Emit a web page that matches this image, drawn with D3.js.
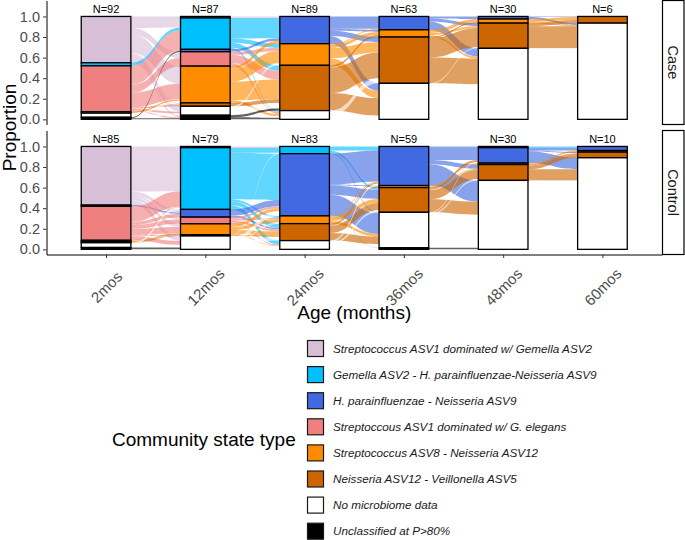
<!DOCTYPE html>
<html><head><meta charset="utf-8">
<script src="https://cdn.jsdelivr.net/npm/d3@7"></script>
<style>
body{margin:0;background:#fff}
svg{display:block}
text{font-family:"Liberation Sans",Arial,Helvetica,sans-serif}
</style>
</head><body>
<svg id="chart" width="685" height="540"></svg>
<script>
// ---------------- DATA ----------------
const ages = ["2mos","12mos","24mos","36mos","48mos","60mos"];
const cstLabels = [
  "Streptococcus ASV1 dominated w/ Gemella ASV2",
  "Gemella ASV2 - H. parainfluenzae-Neisseria ASV9",
  "H. parainfluenzae - Neisseria ASV9",
  "Streptoccous ASV1 dominated w/ G. elegans",
  "Streptococcus ASV8 - Neisseria ASV12",
  "Neisseria ASV12 - Veillonella ASV5",
  "No microbiome data",
  "Unclassified at P>80%"
];
const cstColors = ["#D8BFD8","#00BFFF","#4169E1","#F08080","#FF8C00","#CD6600","#FFFFFF","#000000"];
const panelNames = ["Case","Control"];
const caseN = [92,87,89,63,30,6];
const controlN = [85,79,83,59,30,10];
const yTicks = [0,0.2,0.4,0.6,0.8,1.0];

// stratum proportions per age (order = cstLabels)
const caseStrata = [
  [0.45,0.03,0,0.445,0.015,0,0.04,0.02],
  [0.015,0.305,0.023,0.14,0.357,0.033,0.087,0.04],
  [0,0,0.265,0,0.21,0.44,0.085,0],
  [0,0,0.13,0,0.07,0.45,0.35,0],
  [0,0,0.025,0,0.04,0.245,0.69,0],
  [0,0,0,0,0,0.065,0.935,0]
];
const controlStrata = [
  [0.57,0,0.012,0.33,0.012,0.012,0.046,0.018],
  [0.012,0.60,0.075,0.065,0.105,0.013,0.13,0],
  [0,0.07,0.605,0,0.075,0.165,0.085,0],
  [0,0,0.38,0,0.02,0.24,0.345,0.015],
  [0,0.012,0.15,0,0.014,0.154,0.67,0],
  [0,0,0.04,0,0.015,0.055,0.89,0]
];

// transitions between consecutive ages: [from CST, to CST, share]
const caseFlows = [
  [[0,0,.015],[0,1,.09],[0,3,.06],[0,4,.17],[0,5,.01],[0,6,.06],[0,7,.02],
   [1,1,.03],
   [3,1,.18],[3,2,.013],[3,3,.08],[3,4,.15],[3,5,.013],[3,6,.02],[3,7,.01],
   [4,4,.015],[6,4,.02],[6,6,.02],[7,2,.01],[7,7,.01]],
  [[0,2,.015],
   [1,2,.2],[1,4,.04],[1,5,.05],[1,6,.015],
   [2,2,.023],
   [3,4,.03],[3,5,.08],[3,6,.03],
   [4,2,.03],[4,4,.12],[4,5,.18],[4,6,.027],
   [5,5,.033],
   [6,4,.02],[6,5,.05],[6,6,.017],
   [7,5,.02],[7,6,.02]],
  [[2,2,.12],[2,4,.02],[2,5,.05],[2,6,.075],
   [4,2,.01],[4,4,.03],[4,5,.1],[4,6,.07],
   [5,4,.02],[5,5,.25],[5,6,.17],
   [6,5,.05],[6,6,.035]],
  [[2,2,.02],[2,5,.03],[2,6,.08],
   [4,4,.03],[4,5,.02],[4,6,.02],
   [5,4,.01],[5,5,.19],[5,6,.25],
   [6,5,.01],[6,6,.34]],
  [[2,5,.005],[2,6,.02],
   [4,5,.03],[4,6,.01],
   [5,5,.03],[5,6,.215],
   [6,6,.69]]
];
const controlFlows = [
  [[0,0,.012],[0,1,.42],[0,2,.03],[0,3,.02],[0,4,.03],[0,6,.05],
   [2,2,.012],
   [3,1,.15],[3,2,.03],[3,3,.04],[3,4,.06],[3,5,.01],[3,6,.04],
   [4,1,.006],[4,4,.006],
   [5,4,.006],[5,5,.006],
   [6,1,.02],[6,6,.026],
   [7,6,.018]],
  [[0,1,.012],
   [1,1,.05],[1,2,.45],[1,4,.02],[1,5,.04],[1,6,.04],
   [2,2,.06],[2,5,.015],
   [3,2,.02],[3,4,.015],[3,5,.02],[3,6,.01],
   [4,2,.03],[4,4,.03],[4,5,.04],[4,6,.005],
   [5,5,.013],
   [6,1,.008],[6,2,.045],[6,4,.01],[6,5,.037],[6,6,.03]],
  [[1,2,.04],[1,5,.02],[1,6,.01],
   [2,2,.3],[2,4,.01],[2,5,.09],[2,6,.2],[2,7,.005],
   [4,2,.01],[4,5,.04],[4,6,.025],
   [5,2,.01],[5,4,.01],[5,5,.07],[5,6,.075],
   [6,2,.02],[6,5,.02],[6,6,.035],[6,7,.01]],
  [[2,1,.012],[2,2,.12],[2,5,.04],[2,6,.208],
   [4,4,.01],[4,5,.01],
   [5,2,.02],[5,4,.004],[5,5,.09],[5,6,.126],
   [6,2,.01],[6,5,.014],[6,6,.321],
   [7,6,.015]],
  [[1,2,.012],
   [2,2,.028],[2,5,.01],[2,6,.112],
   [4,4,.007],[4,5,.007],
   [5,4,.008],[5,5,.038],[5,6,.108],
   [6,6,.67]]
];

// ---------------- DRAWING ----------------
const svg = d3.select("#chart");
const plotLeft = 46.5, plotRight = 662;
const panelTops = [0.5, 130.5], panelH = 124;
const x = d3.scalePoint().domain(ages).range([plotLeft, plotRight]).padding(0.6);
const barW = x.step() * 0.5;
const tickGrey = "#4D4D4D";

function drawPanel(p, strata, flows, ns, name) {
  const top = panelTops[p];
  const y = d3.scaleLinear().domain([-0.05, 1.155]).range([top + panelH, top]);
  const g = svg.append("g");

  const pos = strata.map(arr => {
    let cum = 1;
    return arr.map(v => { const s = {top: cum, bot: cum - v, size: v}; cum -= v; return s; });
  });

  // flows
  flows.forEach((list, t) => {
    const rowSum = Array(8).fill(0), colSum = Array(8).fill(0);
    list.forEach(([a,b,v]) => { rowSum[a] += v; colSum[b] += v; });
    const leftOff = pos[t].map(s => s.top), rightOff = pos[t+1].map(s => s.top);
    const L = new Map(), R = new Map();
    list.slice().sort((m,n) => m[0]-n[0] || m[1]-n[1]).forEach(f => {
      const a = f[0]; const h = f[2] / rowSum[a] * pos[t][a].size;
      L.set(f, [leftOff[a], leftOff[a] - h]); leftOff[a] -= h;
    });
    list.slice().sort((m,n) => m[1]-n[1] || m[0]-n[0]).forEach(f => {
      const b = f[1]; const h = f[2] / colSum[b] * pos[t+1][b].size;
      R.set(f, [rightOff[b], rightOff[b] - h]); rightOff[b] -= h;
    });
    const x0 = x(ages[t]) + barW/2, x1 = x(ages[t+1]) - barW/2, xm = (x0 + x1)/2;
    g.append("g").selectAll("path").data(list).enter().append("path")
      .attr("d", f => {
        const [l0,l1] = L.get(f), [r0,r1] = R.get(f);
        return `M${x0},${y(l0)}C${xm},${y(l0)} ${xm},${y(r0)} ${x1},${y(r0)}` +
               `L${x1},${y(r1)}C${xm},${y(r1)} ${xm},${y(l1)} ${x0},${y(l1)}Z`;
      })
      .attr("fill", f => cstColors[f[0]])
      .attr("fill-opacity", 0.62)
      .attr("stroke", "none");
  });

  // strata
  pos.forEach((col, t) => {
    const cells = col.map((s,i) => ({...s, i})).filter(s => s.size > 0);
    g.append("g").selectAll("rect").data(cells).enter().append("rect")
      .attr("x", x(ages[t]) - barW/2)
      .attr("width", barW)
      .attr("y", s => y(s.top))
      .attr("height", s => y(s.bot) - y(s.top))
      .attr("fill", s => cstColors[s.i])
      .attr("stroke", "#000")
      .attr("stroke-width", 1.3);
  });

  // N labels
  g.append("g").selectAll("text").data(ns).enter().append("text")
    .attr("x", (n,i) => x(ages[i]))
    .attr("y", y(1) - 3.6)
    .attr("text-anchor", "middle")
    .attr("font-size", "11px")
    .attr("fill", "#000")
    .text(n => "N=" + n);

  // y axis
  const ya = svg.append("g").attr("transform", `translate(${plotLeft},0)`)
    .call(d3.axisLeft(y).tickValues(yTicks).tickFormat(d3.format(".1f")).tickSize(3.5).tickSizeOuter(0).tickPadding(3));
  ya.select(".domain").attr("stroke", "#000").attr("stroke-width", 1);
  ya.selectAll(".tick line").attr("stroke", "#333");
  ya.selectAll(".tick text").attr("font-size", "14.5px").attr("fill", tickGrey)
    .style("font-family", '"Liberation Sans",Arial,sans-serif');

  // strip
  svg.append("rect").attr("x", 662.5).attr("y", top).attr("width", 21.5).attr("height", panelH)
    .attr("fill", "#fff").attr("stroke", "#000").attr("stroke-width", 1.2);
  svg.append("text")
    .attr("transform", `translate(673.2,${top + panelH/2}) rotate(90)`)
    .attr("text-anchor", "middle").attr("dy", "0.35em")
    .attr("font-size", "14.5px").attr("fill", "#1a1a1a")
    .text(name);

  return y;
}

drawPanel(0, caseStrata, caseFlows, caseN, panelNames[0]);
drawPanel(1, controlStrata, controlFlows, controlN, panelNames[1]);

// x axis (bottom panel)
const axisY = panelTops[1] + panelH;
const xa = svg.append("g").attr("transform", `translate(0,${axisY})`)
  .call(d3.axisBottom(x).tickSize(3.5).tickSizeOuter(0));
xa.select(".domain").attr("stroke", "#000").attr("stroke-width", 1);
xa.selectAll(".tick line").attr("stroke", "#333");
xa.selectAll(".tick text")
  .attr("x", 0).attr("y", 0).attr("dy", "0.35em")
  .attr("text-anchor", "middle")
  .attr("transform", "translate(0,32.5) rotate(-45)")
  .attr("font-size", "15px").attr("fill", tickGrey)
  .style("font-family", '"Liberation Sans",Arial,sans-serif');

// axis titles
svg.append("text").attr("x", (plotLeft + plotRight)/2).attr("y", 319)
  .attr("text-anchor", "middle").attr("font-size", "19px").attr("fill", "#000")
  .text("Age (months)");
svg.append("text").attr("transform", `translate(16,${(panelTops[0] + axisY)/2}) rotate(-90)`)
  .attr("text-anchor", "middle").attr("font-size", "19px").attr("fill", "#000")
  .text("Proportion");

// legend
const lg = svg.append("g");
lg.append("text").attr("x", 112).attr("y", 446).attr("font-size", "19px").attr("fill", "#000")
  .text("Community state type");
const items = lg.selectAll("g.item").data(cstLabels).enter().append("g").attr("class", "item")
  .attr("transform", (d,i) => `translate(0,${348.5 + 26.1*i})`);
items.append("rect").attr("x", 307.5).attr("y", -8).attr("width", 16).attr("height", 16)
  .attr("fill", (d,i) => cstColors[i]).attr("stroke", "#1a1a1a").attr("stroke-width", 1.2);
items.append("text").attr("x", 333).attr("dy", "0.35em")
  .attr("font-size", "11.7px").attr("font-style", "italic").attr("fill", "#1a1a1a")
  .text(d => d);
</script>
</body></html>
